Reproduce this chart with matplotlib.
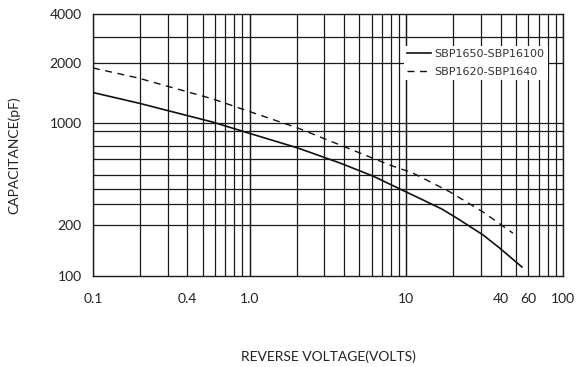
import numpy as np
import matplotlib
matplotlib.use("Agg")
import matplotlib.pyplot as plt

# ---- data ----
V_SOLID = [0.1, 0.194, 0.583, 0.933, 2.03, 3.77, 6.12, 9.1, 12.2, 16.9, 21.0, 30.8, 39.5, 54.7]
C_SOLID = [1422, 1260, 1010, 868, 674, 532, 433, 353, 304, 257, 223, 175, 146, 113]
V_DASH = [0.1, 0.194, 0.583, 0.933, 2.03, 3.77, 7.85, 11.0, 19.0, 30.8, 47.9]
C_DASH = [1888, 1682, 1320, 1162, 924, 707, 515, 454, 337, 246, 179]
LABEL_SOLID = "SBP1650-SBP16100"
LABEL_DASH = "SBP1620-SBP1640"

X_TICKS = [0.1, 0.4, 1.0, 10, 40, 60, 100]
X_TICKLABELS = ["0.1", "0.4", "1.0", "10", "40", "60", "100"]
Y_TICKS = [100, 200, 1000, 2000, 4000]
Y_TICKLABELS = ["100", "200", "1000", "2000", "4000"]
X_GRID = [m * d for d in (0.1, 1, 10) for m in range(1, 11)]
Y_GRID = [200, 278, 353, 440, 566, 695, 880, 1000, 2000, 2900]

# non-uniform (chart-drawn) capacitance axis: anchor values and their relative positions
Y_ANCHORS = [100, 200, 1000, 2000, 4000]
Y_ANCHOR_POS = [0, 51, 153, 213, 262]

LA = np.log10(np.array(Y_ANCHORS, float))
FR = np.array(Y_ANCHOR_POS, float) / Y_ANCHOR_POS[-1]


def _extrap(x, xp, fp):
    x = np.asarray(x, float)
    out = np.interp(x, xp, fp)
    lo_s = (fp[1] - fp[0]) / (xp[1] - xp[0])
    hi_s = (fp[-1] - fp[-2]) / (xp[-1] - xp[-2])
    out = np.where(x < xp[0], fp[0] + (x - xp[0]) * lo_s, out)
    out = np.where(x > xp[-1], fp[-1] + (x - xp[-1]) * hi_s, out)
    return out


def fwd(v):
    v = np.asarray(v, float)
    with np.errstate(divide="ignore", invalid="ignore"):
        lv = np.log10(np.where(v > 0, v, np.nan))
    return _extrap(lv, LA, FR)


def inv(t):
    return 10 ** _extrap(t, FR, LA)


plt.rcParams["font.family"] = ["Lato", "DejaVu Sans"]

fig = plt.figure(figsize=(5.79, 3.67), dpi=100)
ax = fig.add_axes([93 / 579, 1 - 276 / 367, 470 / 579, 262 / 367])

ax.set_xscale("log")
ax.set_yscale("function", functions=(fwd, inv))
ax.set_xlim(0.1, 100)
ax.set_ylim(100, 4000)

gc = "#1a1a1a"
for gx in X_GRID:
    ax.axvline(gx, color=gc, lw=0.9, zorder=1)
for gy in Y_GRID:
    ax.axhline(gy, color=gc, lw=0.9, zorder=1)

ax.plot(V_SOLID, C_SOLID, color="#111111", lw=1.2, label=LABEL_SOLID, zorder=3)
ax.plot(V_DASH, C_DASH, color="#111111", lw=1.0, dashes=(5, 4), label=LABEL_DASH, zorder=3)

ax.set_xticks(X_TICKS)
ax.set_xticklabels(X_TICKLABELS)
ax.xaxis.set_minor_locator(matplotlib.ticker.NullLocator())
ax.set_yticks(Y_TICKS)
ax.set_yticklabels(Y_TICKLABELS)
ax.yaxis.set_minor_locator(matplotlib.ticker.NullLocator())
ax.tick_params(axis="both", length=0, labelsize=10, colors="#222222")
ax.tick_params(axis="x", pad=12)
ax.tick_params(axis="y", pad=8)

for s in ax.spines.values():
    s.set_color(gc)
    s.set_linewidth(1.0)

ax.set_xlabel("REVERSE VOLTAGE(VOLTS)", fontsize=10, color="#222222")
ax.xaxis.set_label_coords(0.5, -0.286)
ax.set_ylabel("CAPACITANCE(pF)", fontsize=10, color="#222222")
ax.yaxis.set_label_coords(-0.155, 0.462)

leg = ax.legend(loc="upper right", bbox_to_anchor=(0.968, 0.878),
                frameon=True, fancybox=False, framealpha=1, edgecolor="none",
                facecolor="white", handlelength=2.2, handletextpad=0.3,
                labelspacing=0.65, borderpad=0.3, borderaxespad=0,
                prop={"family": "DejaVu Sans", "size": 8})
for t in leg.get_texts():
    t.set_color("#333333")
leg.set_zorder(5)

fig.savefig("out.png", dpi=100)
